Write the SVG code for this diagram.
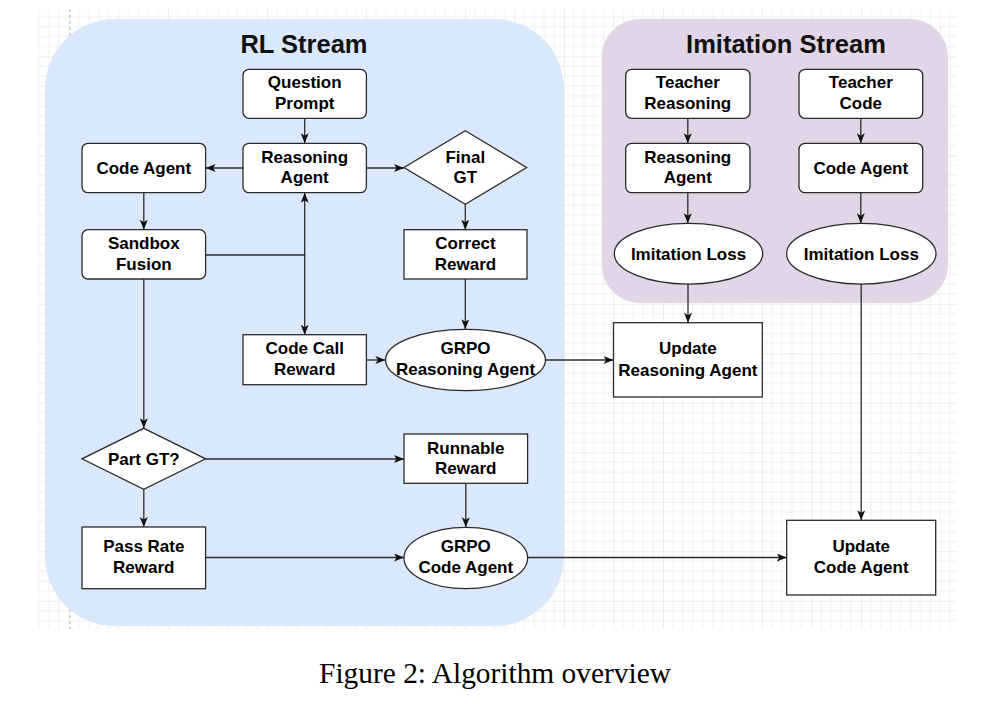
<svg xmlns="http://www.w3.org/2000/svg" width="988" height="705" viewBox="0 0 988 705">
<style>
.n{fill:#fff;stroke:#2b2b2b;stroke-width:1.3}
.t{font-family:"Liberation Sans",Arial,Helvetica,sans-serif;font-weight:bold;font-size:17px;fill:#000;text-anchor:middle}
.h{font-family:"Liberation Sans",Arial,Helvetica,sans-serif;font-weight:bold;font-size:25.5px;fill:#111;text-anchor:middle}
.c{fill:none;stroke:#2b2b2b;stroke-width:1.3;marker-end:url(#arr)}
</style>
<defs>
<marker id="arr" markerUnits="userSpaceOnUse" markerWidth="12" markerHeight="10" refX="10" refY="4" orient="auto">
<path d="M0,0 L10,4 L0,8 L2.5,4 Z" fill="#111"/>
</marker>
<pattern id="grid" patternUnits="userSpaceOnUse" x="69" y="56.3" width="49.5" height="49.5">
<path d="M9.9,0V49.5M19.8,0V49.5M29.7,0V49.5M39.6,0V49.5M0,9.9H49.5M0,19.8H49.5M0,29.7H49.5M0,39.6H49.5" stroke="#efefef" stroke-width="1" fill="none"/>
<path d="M0,0V49.5M0,0H49.5" stroke="#dedede" stroke-width="1" fill="none"/>
</pattern>
</defs>
<rect width="988" height="705" fill="#fff"/>
<g id="background">
<rect x="38" y="9" width="919" height="620" fill="url(#grid)"/>
<line x1="70" y1="9" x2="70" y2="629" stroke="#b5b5b5" stroke-width="1" stroke-dasharray="3,3"/>
</g>
<g id="rl-stream">
<rect x="45" y="19" width="519" height="607" rx="70" ry="70" fill="#dae8fc"/>
<text class="h" x="304" y="52.5">RL Stream</text>
</g>
<g id="imitation-stream">
<rect x="601.7" y="19" width="346.3" height="284" rx="38" ry="38" fill="#e1d5e7"/>
<text class="h" x="786" y="53">Imitation Stream</text>
</g>
<g id="connectors">
<path class="c" d="M304.7,118.3V143.3"/>
<path class="c" d="M243,168H205.6"/>
<path class="c" d="M366.4,168H404"/>
<path class="c" d="M143.8,192.7V229.7"/>
<path class="c" d="M465.3,204.3V229.7"/>
<path class="c" d="M205.6,255H304.7V192.7"/>
<path class="c" d="M304.7,255V334.7"/>
<path class="c" d="M143.8,279V428.3"/>
<path class="c" d="M465.3,279V329.3"/>
<path class="c" d="M366.4,360H385.4"/>
<path class="c" d="M545.5,360H613.5"/>
<path class="c" d="M688,284V322.7"/>
<path class="c" d="M205.6,459H404"/>
<path class="c" d="M143.8,489.3V527"/>
<path class="c" d="M465.8,483.3V527.3"/>
<path class="c" d="M205.6,557.5H404"/>
<path class="c" d="M527.6,557.5H786.7"/>
<path class="c" d="M861.2,284V520.3"/>
<path class="c" d="M687.8,118.3V143.3"/>
<path class="c" d="M860.8,118.3V143.3"/>
<path class="c" d="M687.8,192.7V223.3"/>
<path class="c" d="M860.8,192.7V223.3"/>
</g>
<g id="question-prompt">
<rect class="n" x="243" y="69.3" width="123.4" height="49" rx="6"/>
<text class="t" x="304.7" y="88.3">Question</text>
<text class="t" x="304.7" y="109">Prompt</text>
</g>
<g id="reasoning-agent-rl">
<rect class="n" x="243" y="143.3" width="123.4" height="49.4" rx="6"/>
<text class="t" x="304.7" y="162.7">Reasoning</text>
<text class="t" x="304.7" y="183">Agent</text>
</g>
<g id="code-agent-rl">
<rect class="n" x="82" y="143.3" width="123.6" height="49.4" rx="6"/>
<text class="t" x="143.8" y="173.5">Code Agent</text>
</g>
<g id="final-gt">
<polygon class="n" points="465.3,130.7 526.6,167.5 465.3,204.3 404,167.5"/>
<text class="t" x="465.3" y="163">Final</text>
<text class="t" x="465.3" y="183.3">GT</text>
</g>
<g id="sandbox-fusion">
<rect class="n" x="82" y="229.7" width="123.6" height="49.3" rx="6"/>
<text class="t" x="143.8" y="249.3">Sandbox</text>
<text class="t" x="143.8" y="270">Fusion</text>
</g>
<g id="correct-reward">
<rect class="n" x="404" y="229.7" width="123" height="49.3"/>
<text class="t" x="465.5" y="249.3">Correct</text>
<text class="t" x="465.5" y="270">Reward</text>
</g>
<g id="code-call-reward">
<rect class="n" x="243" y="334.7" width="123.4" height="50"/>
<text class="t" x="304.7" y="354.3">Code Call</text>
<text class="t" x="304.7" y="375">Reward</text>
</g>
<g id="grpo-reasoning-agent">
<ellipse class="n" cx="465.5" cy="360" rx="80" ry="30.7"/>
<text class="t" x="465.5" y="354.3">GRPO</text>
<text class="t" x="465.5" y="375">Reasoning Agent</text>
</g>
<g id="part-gt">
<polygon class="n" points="143.8,428.3 205.6,458.8 143.8,489.3 82,458.8"/>
<text class="t" x="143.8" y="464.5">Part GT?</text>
</g>
<g id="runnable-reward">
<rect class="n" x="404" y="434" width="123.6" height="49.3"/>
<text class="t" x="465.8" y="453.5">Runnable</text>
<text class="t" x="465.8" y="474">Reward</text>
</g>
<g id="pass-rate-reward">
<rect class="n" x="82" y="527" width="123.6" height="61.7"/>
<text class="t" x="143.8" y="552.3">Pass Rate</text>
<text class="t" x="143.8" y="573">Reward</text>
</g>
<g id="grpo-code-agent">
<ellipse class="n" cx="465.8" cy="558" rx="61.8" ry="30.7"/>
<text class="t" x="465.8" y="552.3">GRPO</text>
<text class="t" x="465.8" y="573">Code Agent</text>
</g>
<g id="teacher-reasoning">
<rect class="n" x="625.7" y="69.3" width="124.3" height="49" rx="6"/>
<text class="t" x="687.8" y="88.3">Teacher</text>
<text class="t" x="687.8" y="109">Reasoning</text>
</g>
<g id="teacher-code">
<rect class="n" x="799" y="69.3" width="123.7" height="49" rx="6"/>
<text class="t" x="860.8" y="88.3">Teacher</text>
<text class="t" x="860.8" y="109">Code</text>
</g>
<g id="reasoning-agent-imitation">
<rect class="n" x="625.7" y="143.3" width="124.3" height="49.4" rx="6"/>
<text class="t" x="687.8" y="162.7">Reasoning</text>
<text class="t" x="687.8" y="183">Agent</text>
</g>
<g id="code-agent-imitation">
<rect class="n" x="799" y="143.3" width="123.7" height="49.4" rx="6"/>
<text class="t" x="860.8" y="173.5">Code Agent</text>
</g>
<g id="imitation-loss-reasoning">
<ellipse class="n" cx="688.5" cy="253.7" rx="74.2" ry="30.4"/>
<text class="t" x="688.5" y="259.7">Imitation Loss</text>
</g>
<g id="imitation-loss-code">
<ellipse class="n" cx="861.3" cy="253.7" rx="74.7" ry="30.4"/>
<text class="t" x="861.3" y="259.7">Imitation Loss</text>
</g>
<g id="update-reasoning-agent">
<rect class="n" x="613.5" y="322.7" width="148.8" height="74.3"/>
<text class="t" x="687.9" y="354.3">Update</text>
<text class="t" x="687.9" y="375.7">Reasoning Agent</text>
</g>
<g id="update-code-agent">
<rect class="n" x="786.7" y="520.3" width="149" height="74.7"/>
<text class="t" x="861.2" y="552.3">Update</text>
<text class="t" x="861.2" y="573.3">Code Agent</text>
</g>
<text x="495" y="683.3" font-family="'Liberation Serif','Times New Roman',serif" font-size="29.4" fill="#000" text-anchor="middle">Figure 2: Algorithm overview</text>
</svg>
